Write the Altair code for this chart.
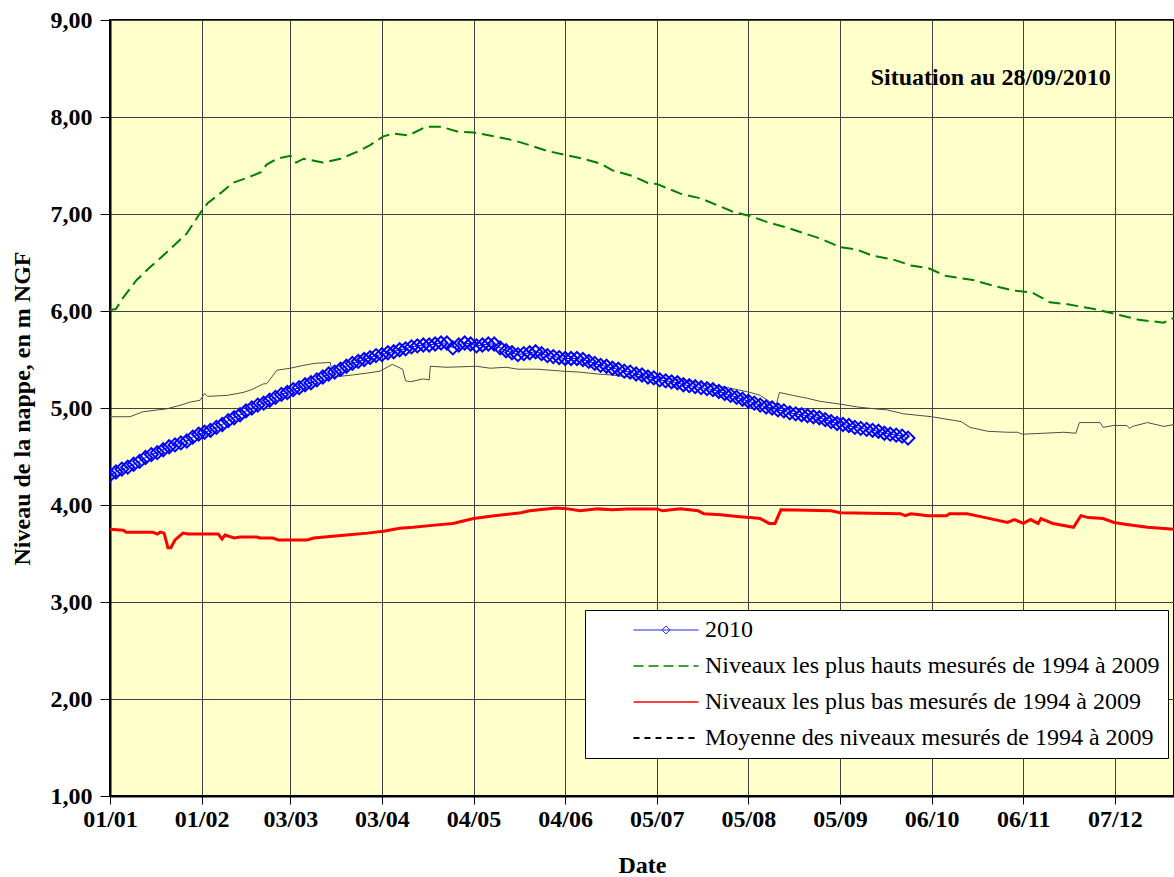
import altair as alt
import pandas as pd

SERIES = [
    "2010",
    "Niveaux les plus hauts mesurés de 1994 à 2009",
    "Niveaux les plus bas mesurés de 1994 à 2009",
    "Moyenne des niveaux mesurés de 1994 à 2009",
]

tick_days = [0, 31, 61, 92, 123, 154, 185, 216, 247, 278, 309, 340]
tick_labels = ["01/01", "01/02", "03/03", "03/04", "04/05", "04/06",
               "05/07", "05/08", "05/09", "06/10", "06/11", "07/12"]
y_ticks = [1, 2, 3, 4, 5, 6, 7, 8, 9]

# 2010 series (every 2 days, 01/01 -> 28/09)
days_2010 = list(range(0, 271, 2))
vals_2010 = [
    4.31, 4.34, 4.37, 4.39, 4.42, 4.45, 4.49, 4.52, 4.54, 4.57,
    4.60, 4.62, 4.64, 4.66, 4.70, 4.73, 4.75, 4.77, 4.80, 4.83,
    4.87, 4.90, 4.93, 4.97, 5.00, 5.03, 5.05, 5.08, 5.11, 5.14,
    5.16, 5.19, 5.21, 5.24, 5.26, 5.29, 5.32, 5.35, 5.37, 5.40,
    5.43, 5.46, 5.48, 5.50, 5.52, 5.54, 5.55, 5.57, 5.58, 5.60,
    5.61, 5.63, 5.64, 5.65, 5.65, 5.66, 5.67, 5.67, 5.62, 5.65,
    5.67, 5.66, 5.64, 5.65, 5.66, 5.66, 5.62, 5.59, 5.57, 5.55,
    5.56, 5.57, 5.58, 5.56, 5.54, 5.53, 5.52, 5.51, 5.51, 5.51,
    5.50, 5.48, 5.46, 5.44, 5.43, 5.41, 5.40, 5.38, 5.37, 5.35,
    5.34, 5.32, 5.31, 5.29, 5.28, 5.27, 5.26, 5.24, 5.23, 5.22,
    5.21, 5.20, 5.19, 5.17, 5.15, 5.13, 5.11, 5.09, 5.07, 5.05,
    5.03, 5.01, 5.00, 4.98, 4.97, 4.95, 4.94, 4.93, 4.92, 4.91,
    4.90, 4.88, 4.86, 4.84, 4.83, 4.82, 4.80, 4.79, 4.78, 4.77,
    4.76, 4.74, 4.73, 4.72, 4.71, 4.69,
]

high_days = [0, 2, 4, 9, 13.5, 19, 26, 30.5, 33, 38, 41.5, 47, 51, 53, 56.5,
             61, 63, 65.5, 72, 78, 83.5, 88, 92.5, 96, 101, 107, 112, 117.5,
             123, 130, 136.5, 142, 148, 154, 160, 166, 170, 177, 182, 185,
             193, 200, 205.5, 211, 216.5, 223, 229, 235, 240, 247, 253, 258,
             265, 271, 277, 283, 292, 299, 306, 312, 318, 324, 333, 340, 348,
             356.5, 360]
high_vals = [6.01, 6.02, 6.12, 6.32, 6.45, 6.60, 6.80, 7.01, 7.11, 7.23, 7.32,
             7.38, 7.43, 7.51, 7.57, 7.60, 7.53, 7.57, 7.53, 7.57, 7.64, 7.71,
             7.80, 7.83, 7.81, 7.90, 7.90, 7.85, 7.84, 7.80, 7.76, 7.71, 7.65,
             7.61, 7.57, 7.52, 7.45, 7.39, 7.32, 7.31, 7.21, 7.16, 7.09, 7.02,
             6.98, 6.91, 6.86, 6.80, 6.75, 6.66, 6.63, 6.57, 6.53, 6.47, 6.44,
             6.36, 6.32, 6.26, 6.21, 6.19, 6.09, 6.07, 6.02, 5.97, 5.91, 5.88,
             5.93]

low_days = [0, 4.5, 5.5, 14.5, 16, 17, 18.3, 19.6, 20.6, 22, 24.7, 26.5, 36.6,
            37.9, 38.9, 42, 44, 49.7, 50.8, 55, 57, 66.7, 68.9, 80, 87, 92.5,
            98, 102.6, 109, 116, 123, 130, 139, 142, 151, 155, 159, 165, 170,
            175, 185, 187, 193, 199, 201, 206.6, 213, 216.7, 220, 223, 225,
            227, 244, 247, 267.5, 269, 271, 274, 276.7, 283, 284, 290, 294.6,
            303.7, 306, 309, 311.5, 314, 315, 319, 326, 328.5, 331, 336, 339.7,
            344, 351, 360]
low_vals = [3.75, 3.74, 3.72, 3.72, 3.70, 3.72, 3.71, 3.56, 3.56, 3.64, 3.71,
            3.70, 3.70, 3.65, 3.69, 3.66, 3.67, 3.67, 3.66, 3.66, 3.64, 3.64,
            3.66, 3.69, 3.71, 3.73, 3.76, 3.77, 3.79, 3.81, 3.86, 3.89, 3.92,
            3.94, 3.97, 3.96, 3.94, 3.96, 3.95, 3.96, 3.96, 3.94, 3.96, 3.94,
            3.91, 3.90, 3.88, 3.87, 3.86, 3.81, 3.81, 3.95, 3.94, 3.92, 3.91,
            3.89, 3.91, 3.90, 3.89, 3.89, 3.91, 3.91, 3.88, 3.82, 3.85, 3.81,
            3.85, 3.81, 3.86, 3.81, 3.77, 3.89, 3.87, 3.86, 3.82, 3.80, 3.77,
            3.75]

mean_days = [0, 6.8, 11, 13.5, 16, 19, 24, 27, 30.5, 32, 33, 39.6, 45, 48, 52,
             53, 56.5, 61, 64, 69, 74.5, 75.5, 82, 87, 91.4, 95.5, 99, 100,
             101.6, 106, 108, 108.4, 114, 124, 128.7, 134, 138, 144.6, 153,
             159, 165, 170, 175, 185, 193, 200, 209, 216.7, 220, 224, 225.5,
             226.5, 231, 236, 240, 247, 253, 256, 263, 268.5, 278, 288, 291,
             297, 303.7, 307, 308.8, 316, 322.7, 326.8, 328, 335, 336, 339.6,
             344, 345, 346, 351, 356.6, 360]
mean_vals = [4.91, 4.91, 4.96, 4.97, 4.98, 4.99, 5.03, 5.06, 5.08, 5.15, 5.12,
             5.13, 5.16, 5.19, 5.25, 5.25, 5.39, 5.41, 5.43, 5.46, 5.47, 5.32,
             5.34, 5.36, 5.38, 5.45, 5.40, 5.28, 5.27, 5.30, 5.29, 5.43, 5.42,
             5.43, 5.41, 5.42, 5.40, 5.40, 5.38, 5.37, 5.35, 5.34, 5.32, 5.32,
             5.29, 5.25, 5.21, 5.16, 5.13, 5.05, 5.04, 5.16, 5.13, 5.10, 5.07,
             5.04, 5.01, 5.00, 4.98, 4.94, 4.91, 4.86, 4.80, 4.76, 4.75, 4.75,
             4.73, 4.74, 4.75, 4.74, 4.85, 4.85, 4.80, 4.82, 4.82, 4.79, 4.81,
             4.85, 4.81, 4.83]

annot_text = ["Situation au 28/09/2010"]
annot_day = [298]
annot_val = [8.40]

# legend styling (per series)
LEG_COLORS = ["#0000FF", "#008000", "#FF0000", "#000000"]
LEG_SHAPES = ["M-6.5,0L6.5,0M-0.8,0L0,-0.8L0.8,0L0,0.8Z",
              "M-6.5,0L6.5,0", "M-6.5,0L6.5,0", "M-6.5,0L6.5,0"]
LEG_DASH = [[1, 0], [10, 5], [1, 0], [6, 5]]
LEG_WIDTH = [1, 2, 3, 1]

df2010 = pd.DataFrame({"day": days_2010, "value": vals_2010})
dfhigh = pd.DataFrame({"day": high_days, "value": high_vals})
dflow = pd.DataFrame({"day": low_days, "value": low_vals})
dfmean = pd.DataFrame({"day": mean_days, "value": mean_vals})
dfann = pd.DataFrame({"day": annot_day, "value": annot_val, "text": annot_text})
# legend carrier: one off-scale point per series (clipped away)
dfleg = pd.DataFrame({"day": [0] * len(SERIES), "value": [-50] * len(SERIES), "series": SERIES})

FONT = "Liberation Serif"

lab_js = "[" + ",".join("'%s'" % t for t in tick_labels) + "]"
day_js = "[" + ",".join(str(d) for d in tick_days) + "]"

x_enc = alt.X("day:Q",
              scale=alt.Scale(domain=[0, 360], nice=False, zero=False),
              axis=alt.Axis(values=tick_days, title="Date",
                            labelExpr=f"{lab_js}[indexof({day_js}, datum.value)]",
                            tickSize=8, labelPadding=3, titlePadding=22,
                            labelFlush=False, labelOverlap=False))
y_enc = alt.Y("value:Q",
              scale=alt.Scale(domain=[1, 9], nice=False, zero=False),
              axis=alt.Axis(values=y_ticks, title="Niveau de la nappe, en m NGF",
                            labelExpr="replace(format(datum.value, '.2f'), '.', ',')",
                            tickSize=10, labelPadding=8, titlePadding=16))

legend = alt.Legend(
    title=None, orient="none", legendX=475, legendY=590,
    symbolSize=100,
    labelFont=FONT, labelFontSize=24, labelColor="black", labelLimit=0,
    labelExpr="datum.label + '\u2003'",
    fillColor="white", strokeColor="black", padding=8, rowPadding=12,
    symbolOffset=61, labelOffset=27,
)

high_line = alt.Chart(dfhigh).mark_line(color="#008000", strokeWidth=2, strokeDash=[12, 6], clip=True).encode(x=x_enc, y=y_enc)
low_line = alt.Chart(dflow).mark_line(color="#FF0000", strokeWidth=3, clip=True).encode(x="day:Q", y="value:Q")
mean_line = alt.Chart(dfmean).mark_line(color="#4D4D4D", strokeWidth=1, clip=True).encode(x="day:Q", y="value:Q")
line2010 = alt.Chart(df2010).mark_line(color="#0000FF", strokeWidth=1, clip=True).encode(x="day:Q", y="value:Q")
pts2010 = alt.Chart(df2010).mark_point(shape="diamond", filled=False, size=170,
                                       strokeWidth=2, color="#0000FF", opacity=1,
                                       clip=True).encode(x="day:Q", y="value:Q")

leg_layer = alt.Chart(dfleg).mark_point(filled=False, opacity=1, clip=True).encode(
    x="day:Q", y="value:Q",
    color=alt.Color("series:N", scale=alt.Scale(domain=SERIES, range=LEG_COLORS), legend=legend),
    shape=alt.Shape("series:N", scale=alt.Scale(domain=SERIES, range=LEG_SHAPES), legend=legend),
    strokeDash=alt.StrokeDash("series:N", scale=alt.Scale(domain=SERIES, range=LEG_DASH), legend=legend),
    strokeWidth=alt.StrokeWidth("series:N", scale=alt.Scale(domain=SERIES, range=LEG_WIDTH), legend=legend),
)

ann = alt.Chart(dfann).mark_text(font=FONT, fontSize=24, fontWeight="bold",
                                 align="center", baseline="middle",
                                 color="black").encode(x="day:Q", y="value:Q", text="text:N")

chart = alt.layer(high_line, mean_line, low_line, line2010, pts2010, ann, leg_layer).properties(
    width=1064, height=776, background="white",
    padding={"left": 110, "top": 20, "right": 0, "bottom": 81},
    autosize=alt.AutoSizeParams(type="none"),
).configure_view(
    fill="#FFFFCC", stroke="black", strokeWidth=2
).configure_axis(
    labelFont=FONT, labelFontSize=24, labelFontWeight="bold", labelColor="black",
    titleFont=FONT, titleFontSize=24, titleFontWeight="bold", titleColor="black",
    domainColor="black", domainWidth=2, tickColor="black", tickWidth=1,
    gridColor="#404040", gridWidth=1, gridOpacity=1,
).configure_legend(
    labelFont=FONT, labelFontSize=24, labelColor="black", labelFontWeight="normal",
)

chart.save("out.html", embed_options={"renderer": "svg", "actions": False})
